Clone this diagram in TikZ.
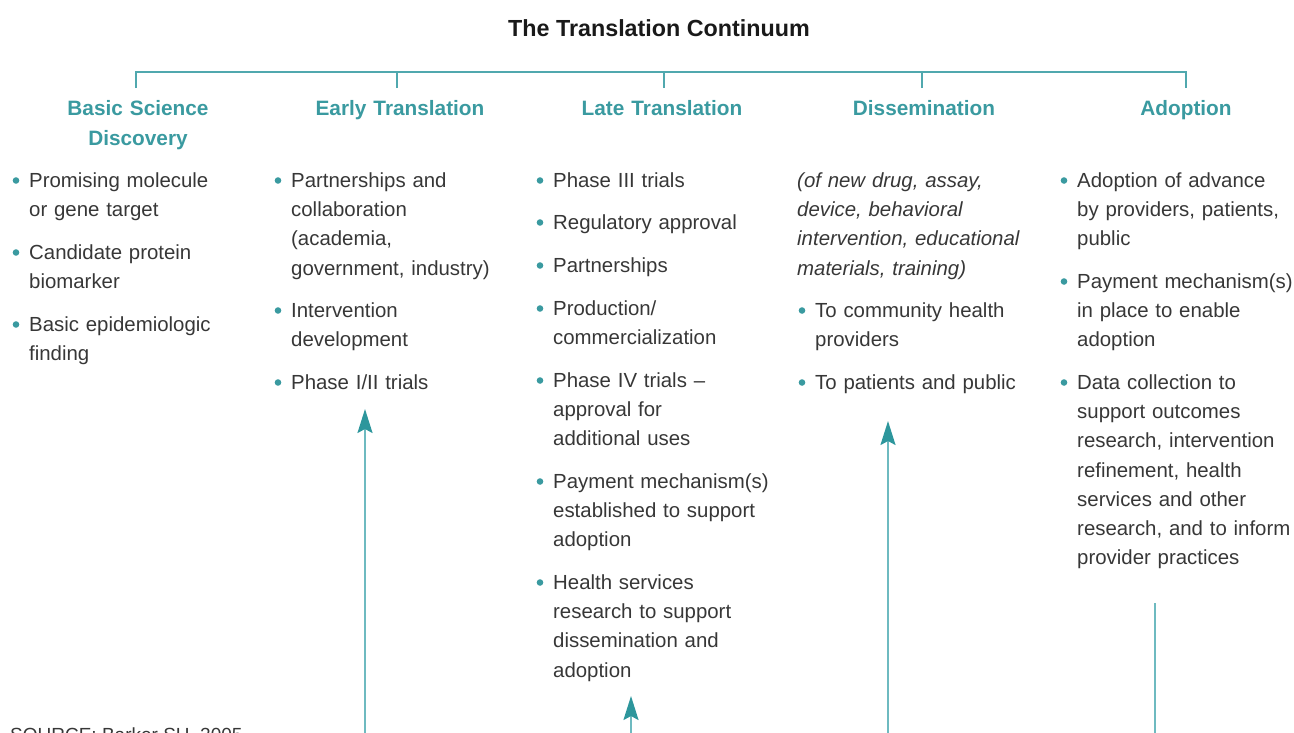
\documentclass[tikz,border=0pt]{standalone}
\usepackage{fontspec}
\setmainfont{Liberation Sans}
\usetikzlibrary{arrows.meta}
\definecolor{tealhead}{RGB}{58,154,160}
\definecolor{tealline}{RGB}{80,168,174}
\definecolor{tealarr}{RGB}{110,186,192}
\definecolor{tealtip}{RGB}{45,150,156}
\definecolor{txt}{RGB}{55,55,55}
\newcommand\bitem[4]{%
  \node[body] (#1) at (#2,#3) {#4};
  \fill[bul] (#1.base west) ++(-13,-7) circle[radius=3.3pt];}
\begin{document}
\begin{tikzpicture}[x=1pt,y=-1pt,
  title/.style={anchor=base, inner sep=0, font=\bfseries\fontsize{23.3}{27}\selectfont, text=black!90},
  head/.style={anchor=base, inner sep=0, text width=220pt, align=center,
    font=\bfseries\fontsize{20.8}{30}\selectfont, text=tealhead},
  body/.style={anchor=base west, inner sep=0, text width=260pt, align=left,
    font=\fontsize{20.4}{29.2}\selectfont, text=txt},
  ital/.style={body, font=\itshape\fontsize{20.4}{29.2}\selectfont},
  bul/.style={fill=tealhead},
  bracket/.style={draw=tealline, line width=1.5pt},
  arr/.style={draw=tealarr, line width=2pt, -{Stealth[length=24pt,width=15pt,inset=4pt,color=tealtip]}},
  plain/.style={draw=tealarr, line width=2pt},
  src/.style={anchor=base west, inner sep=0, font=\fontsize{19}{22}\selectfont, text=txt}]
\useasboundingbox (0,0) rectangle (1294,732);
\clip (0,0) rectangle (1294,732);

% title and bracket
\node[title] (t) at (659,36) {The Translation Continuum};
\coordinate (b1) at (136,88);
\coordinate (b2) at (397,88);
\coordinate (b3) at (664,88);
\coordinate (b4) at (922,88);
\coordinate (b5) at (1186,88);
\draw[bracket] (b1) -- ++(0,-16) -| (b5);
\draw[bracket] (b2) -- ++(0,-16);
\draw[bracket] (b3) -- ++(0,-16);
\draw[bracket] (b4) -- ++(0,-16);

% headings
\node[head] (h1) at (138,115.7) {Basic Science\\Discovery};
\node[head] (h2) at (400,115.7) {Early Translation};
\node[head] (h3) at (662,115.7) {Late Translation};
\node[head] (h4) at (924,115.7) {Dissemination};
\node[head] (h5) at (1186,115.7) {Adoption};

% column 1
\bitem{c1a}{29}{187.5}{Promising molecule\\or gene target}
\bitem{c1b}{29}{259.5}{Candidate protein\\biomarker}
\bitem{c1c}{29}{331.5}{Basic epidemiologic\\finding}

% column 2
\bitem{c2a}{291}{187.5}{Partnerships and\\collaboration\\(academia,\\government, industry)}
\bitem{c2b}{291}{317.5}{Intervention\\development}
\bitem{c2c}{291}{389.5}{Phase I/II trials}

% column 3
\bitem{c3a}{553}{187.5}{Phase III trials}
\bitem{c3b}{553}{229.5}{Regulatory approval}
\bitem{c3c}{553}{272.5}{Partnerships}
\bitem{c3d}{553}{315.5}{Production/\\commercialization}
\bitem{c3e}{553}{387.5}{Phase IV trials --\\approval for\\additional uses}
\bitem{c3f}{553}{488.5}{Payment mechanism(s)\\established to support\\adoption}
\bitem{c3g}{553}{589.5}{Health services\\research to support\\dissemination and\\adoption}

% column 4
\node[ital] (c4i) at (797,187.5) {(of new drug, assay,\\device, behavioral\\intervention, educational\\materials, training)};
\bitem{c4a}{815}{317.5}{To community health\\providers}
\bitem{c4b}{815}{389.5}{To patients and public}

% column 5
\bitem{c5a}{1077}{187.5}{Adoption of advance\\by providers, patients,\\public}
\bitem{c5b}{1077}{288.5}{Payment mechanism(s)\\in place to enable\\adoption}
\bitem{c5c}{1077}{389.5}{Data collection to\\support outcomes\\research, intervention\\refinement, health\\services and other\\research, and to inform\\provider practices}

% arrows
\coordinate (a1s) at (365,740);
\coordinate (a1e) at (365,409);
\coordinate (a2s) at (631,740);
\coordinate (a2e) at (631,696);
\coordinate (a3s) at (888,740);
\coordinate (a3e) at (888,421);
\coordinate (a4s) at (1155,740);
\coordinate (a4e) at (1155,603);
\draw[arr] (a1s) -- (a1e);
\draw[arr] (a2s) -- (a2e);
\draw[arr] (a3s) -- (a3e);
\draw[plain] (a4s) -- (a4e);

% source (cut off at the bottom edge, as in the reference)
\node[src] (src) at (10,741) {SOURCE: Barker SH, 2005};
\end{tikzpicture}
\end{document}
